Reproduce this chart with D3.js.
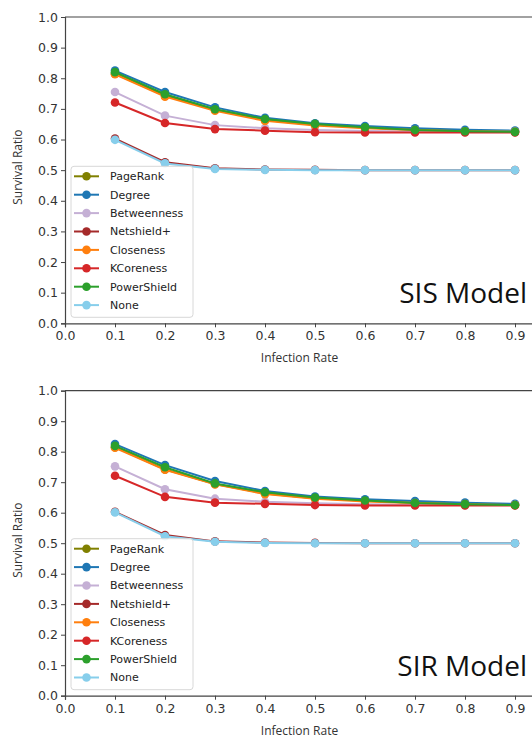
<!DOCTYPE html>
<html>
<head>
<meta charset="utf-8">
<script src="https://cdn.jsdelivr.net/npm/d3@7"></script>
<style>
  html, body { margin: 0; padding: 0; background: #fff; overflow: hidden; }
  svg { display: block; }
</style>
</head>
<body>
<svg id="chart" width="532" height="740"></svg>
<script>
// ---------- data ----------
const infectionRates = [0.1, 0.2, 0.3, 0.4, 0.5, 0.6, 0.7, 0.8, 0.9];
const seriesNames = ["PageRank", "Degree", "Betweenness", "Netshield+", "Closeness", "KCoreness", "PowerShield", "None"];
const seriesColors = ["#808000", "#1f77b4", "#c5b0d5", "#a52a2a", "#ff7f0e", "#d62728", "#2ca02c", "#87ceeb"];
const xTicks = [0.0, 0.1, 0.2, 0.3, 0.4, 0.5, 0.6, 0.7, 0.8, 0.9];
const yTicks = [0.0, 0.1, 0.2, 0.3, 0.4, 0.5, 0.6, 0.7, 0.8, 0.9, 1.0];

// SIS model
const sisPageRank    = [0.815, 0.743, 0.697, 0.664, 0.648, 0.639, 0.632, 0.628, 0.626];
const sisDegree      = [0.825, 0.755, 0.705, 0.671, 0.653, 0.644, 0.637, 0.632, 0.629];
const sisBetweenness = [0.755, 0.678, 0.647, 0.637, 0.631, 0.628, 0.626, 0.625, 0.625];
const sisNetshield   = [0.603, 0.526, 0.506, 0.502, 0.501, 0.500, 0.500, 0.500, 0.500];
const sisCloseness   = [0.813, 0.740, 0.694, 0.661, 0.646, 0.637, 0.631, 0.627, 0.625];
const sisKCoreness   = [0.721, 0.654, 0.634, 0.629, 0.624, 0.623, 0.623, 0.623, 0.623];
const sisPowerShield = [0.820, 0.748, 0.699, 0.667, 0.651, 0.640, 0.631, 0.627, 0.625];
const sisNone        = [0.599, 0.522, 0.504, 0.501, 0.500, 0.500, 0.500, 0.500, 0.500];

// SIR model
const sirPageRank    = [0.815, 0.742, 0.694, 0.663, 0.647, 0.639, 0.633, 0.629, 0.626];
const sirDegree      = [0.825, 0.756, 0.704, 0.671, 0.653, 0.644, 0.638, 0.633, 0.629];
const sirBetweenness = [0.752, 0.677, 0.646, 0.636, 0.631, 0.628, 0.626, 0.625, 0.625];
const sirNetshield   = [0.603, 0.527, 0.506, 0.502, 0.501, 0.500, 0.500, 0.500, 0.500];
const sirCloseness   = [0.813, 0.741, 0.693, 0.661, 0.646, 0.637, 0.632, 0.628, 0.625];
const sirKCoreness   = [0.721, 0.652, 0.633, 0.629, 0.625, 0.624, 0.624, 0.624, 0.624];
const sirPowerShield = [0.819, 0.749, 0.696, 0.667, 0.650, 0.640, 0.632, 0.628, 0.625];
const sirNone        = [0.601, 0.523, 0.505, 0.501, 0.500, 0.500, 0.500, 0.500, 0.500];

const sisSeries = [sisPageRank, sisDegree, sisBetweenness, sisNetshield, sisCloseness, sisKCoreness, sisPowerShield, sisNone];
const sirSeries = [sirPageRank, sirDegree, sirBetweenness, sirNetshield, sirCloseness, sirKCoreness, sirPowerShield, sirNone];

// ---------- drawing ----------
const svg = d3.select("#chart");
const tickFont = "DejaVu Sans, sans-serif";
const labelFont = "'Open Sans', sans-serif";

function drawPanel(top, bottom, seriesValues, title) {
  const left = 65, right = 540;
  const x = d3.scaleLinear().domain([0, 0.95]).range([left, right]);
  const y = d3.scaleLinear().domain([0, 1]).range([bottom, top]);
  const g = svg.append("g");

  // spines
  g.append("line").attr("x1", left).attr("x2", right).attr("y1", top).attr("y2", top)
    .attr("stroke", "#444").attr("stroke-width", 1.2);
  g.append("line").attr("x1", right).attr("x2", right).attr("y1", top).attr("y2", bottom)
    .attr("stroke", "#444").attr("stroke-width", 1.2);

  // axes
  const xAxis = d3.axisBottom(x).tickValues(xTicks).tickFormat(d3.format(".1f")).tickSize(4).tickPadding(4);
  const yAxis = d3.axisLeft(y).tickValues(yTicks).tickFormat(d3.format(".1f")).tickSize(4).tickPadding(3);
  const gx = g.append("g").attr("transform", `translate(0,${bottom})`).call(xAxis);
  const gy = g.append("g").attr("transform", `translate(${left},0)`).call(yAxis);
  [gx, gy].forEach(a => {
    a.select(".domain").attr("stroke", "#444").attr("stroke-width", 1.2);
    a.selectAll(".tick line").attr("stroke", "#444").attr("stroke-width", 1);
    a.selectAll(".tick text").attr("fill", "#333").style("font-family", tickFont).style("font-size", "12.5px");
  });

  // axis labels
  g.append("text").attr("x", (left + right) / 2 - 3).attr("y", bottom + 39)
    .attr("text-anchor", "middle").style("font-family", labelFont).style("font-size", "12px")
    .attr("fill", "#333").text("Infection Rate");
  g.append("text").attr("transform", `translate(22,${(top + bottom) / 2 - 3}) rotate(-90)`)
    .attr("text-anchor", "middle").style("font-family", labelFont).style("font-size", "12px")
    .attr("fill", "#333").text("Survival Ratio");

  // series
  const line = d3.line().x((d, i) => x(infectionRates[i])).y(d => y(d));
  seriesValues.forEach((vals, si) => {
    const c = seriesColors[si];
    g.append("path").datum(vals).attr("d", line).attr("fill", "none")
      .attr("stroke", c).attr("stroke-width", 2);
    g.selectAll(null).data(vals).enter().append("circle")
      .attr("cx", (d, i) => x(infectionRates[i])).attr("cy", d => y(d))
      .attr("r", 4.3).attr("fill", c);
  });

  // legend
  const lgTop = bottom - 157, lgLeft = 71, lgW = 122, lgH = 151, rowH = 18.4;
  const lg = g.append("g");
  lg.append("rect").attr("x", lgLeft).attr("y", lgTop).attr("width", lgW).attr("height", lgH)
    .attr("rx", 3).attr("fill", "#fff").attr("fill-opacity", 0.85)
    .attr("stroke", "#d8d8d8").attr("stroke-width", 1);
  seriesNames.forEach((name, si) => {
    const cy = lgTop + 10 + si * rowH;
    const c = seriesColors[si];
    lg.append("line").attr("x1", lgLeft + 3).attr("x2", lgLeft + 28).attr("y1", cy).attr("y2", cy)
      .attr("stroke", c).attr("stroke-width", 2);
    lg.append("circle").attr("cx", lgLeft + 15.5).attr("cy", cy).attr("r", 4.3).attr("fill", c);
    lg.append("text").attr("x", lgLeft + 39).attr("y", cy).attr("dy", "0.35em")
      .style("font-family", tickFont).style("font-size", "11px").attr("fill", "#222").text(name);
  });

  // model title
  g.append("text").attr("x", 527).attr("y", bottom - 20).attr("text-anchor", "end")
    .style("font-family", labelFont).style("font-size", "28px").attr("fill", "#111").text(title);
}

drawPanel(17, 323.3, sisSeries, "SIS Model");
drawPanel(390.7, 695.7, sirSeries, "SIR Model");
</script>
</body>
</html>
